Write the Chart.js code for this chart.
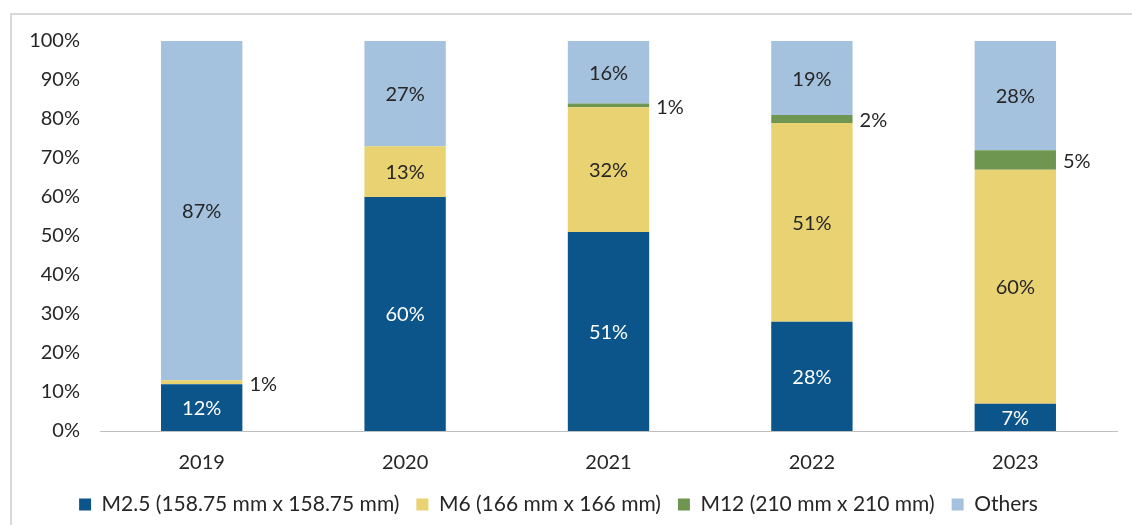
<!DOCTYPE html>
<html>
<head>
<meta charset="utf-8">
<script src="https://cdn.jsdelivr.net/npm/chart.js@4/dist/chart.umd.min.js"></script>
<style>
  html, body { margin: 0; padding: 0; background: #fff; }
  #wrap { position: relative; width: 1132px; height: 525px; overflow: hidden; }
  #frame { position: absolute; left: 10px; top: 13px; width: 1140px; height: 540px; border: 2px solid #D9D9D9; box-sizing: border-box; pointer-events: none; }
  canvas { position: absolute; left: 0; top: 0; }
</style>
</head>
<body>
<div id="wrap">
  <canvas id="c" width="1132" height="525"></canvas>
  <div id="frame"></div>
</div>
<script>
const categories = ['2019', '2020', '2021', '2022', '2023'];
const seriesNames = ['M2.5 (158.75 mm x 158.75 mm)', 'M6 (166 mm x 166 mm)', 'M12 (210 mm x 210 mm)', 'Others'];
const m25 = [12, 60, 51, 28, 7];
const m6 = [1, 13, 32, 51, 60];
const m12 = [0, 0, 1, 2, 5];
const others = [87, 27, 16, 19, 28];
const yTicks = [0, 10, 20, 30, 40, 50, 60, 70, 80, 90, 100];

const colors = ['#0B558B', '#E9D271', '#6E9651', '#A4C1DE'];
const labelColors = ['#FFFFFF', '#262626', '#262626', '#262626'];
const FONT = 'Lato, "Open Sans", sans-serif';
const FS = 20;

const labelPlugin = {
  id: 'segLabels',
  afterDatasetsDraw(chart) {
    const ctx = chart.ctx;
    ctx.save();
    ctx.font = FS + 'px ' + FONT;
    ctx.textBaseline = 'middle';
    chart.data.datasets.forEach((ds, i) => {
      const meta = chart.getDatasetMeta(i);
      meta.data.forEach((bar, j) => {
        const v = ds.data[j];
        if (!v) return;
        const p = bar.getProps(['x', 'y', 'base', 'width'], true);
        const cy = (p.y + p.base) / 2;
        if (v <= 5) {
          ctx.fillStyle = '#262626';
          ctx.textAlign = 'left';
          ctx.fillText(v + '%', p.x + p.width / 2 + 7, cy + 2);
        } else {
          ctx.fillStyle = labelColors[i];
          ctx.textAlign = 'center';
          ctx.fillText(v + '%', p.x, cy + 1);
        }
      });
    });
    ctx.restore();
  }
};

const series = [m25, m6, m12, others];
new Chart(document.getElementById('c'), {
  type: 'bar',
  data: {
    labels: categories,
    datasets: series.map((d, i) => ({
      label: seriesNames[i],
      data: d,
      backgroundColor: colors[i],
      borderWidth: 0,
      barPercentage: 0.4,
      categoryPercentage: 1.0
    }))
  },
  options: {
    responsive: false,
    animation: false,
    devicePixelRatio: 1,
    layout: { padding: { top: 41, right: 15, left: 0, bottom: 0 } },
    plugins: {
      tooltip: { enabled: false },
      legend: {
        position: 'bottom',
        labels: {
          font: { family: FONT, size: 21 },
          color: '#262626',
          boxWidth: 12,
          boxHeight: 12,
          padding: 17
        }
      }
    },
    scales: {
      x: {
        stacked: true,
        grid: { display: false, drawTicks: false },
        border: { display: true, color: '#BFBFBF', width: 1 },
        ticks: { font: { family: FONT, size: FS }, color: '#262626', padding: 20 },
        afterFit(s) { s.height = 46; }
      },
      y: {
        stacked: true,
        min: 0,
        max: 100,
        afterBuildTicks(s) { s.ticks = yTicks.map(v => ({ value: v })); },
        grid: { display: false, drawTicks: false },
        border: { display: false },
        ticks: {
          font: { family: FONT, size: FS },
          color: '#262626',
          padding: 20,
          callback: v => v + '%'
        },
        afterFit(s) { s.width = 100; }
      }
    }
  },
  plugins: [labelPlugin]
});
</script>
</body>
</html>
